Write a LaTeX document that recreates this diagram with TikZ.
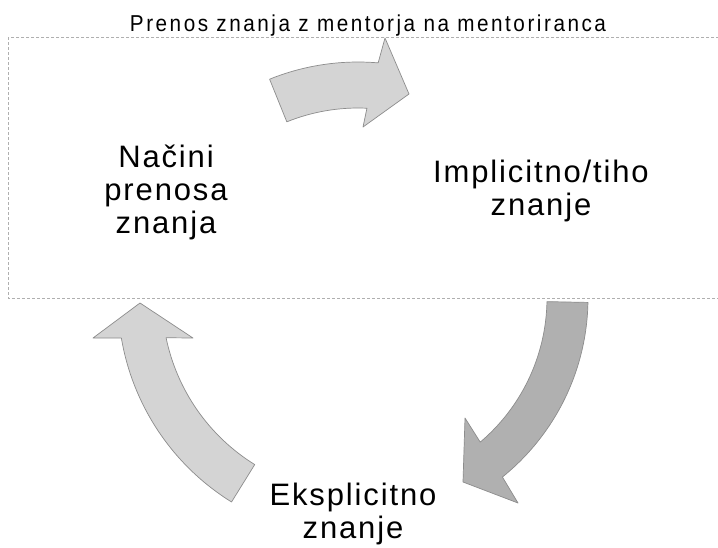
\documentclass[tikz,border=0pt]{standalone}
\usepackage{fontspec}
\setmainfont{Liberation Sans}
\newfontfamily\labelfont[LetterSpace=6]{Liberation Sans}
\newfontfamily\titlefont[LetterSpace=11,FakeStretch=0.9]{Liberation Sans}
\definecolor{lightfill}{RGB}{212,212,212}
\definecolor{darkfill}{RGB}{176,176,176}
\definecolor{arrowedge}{RGB}{140,140,140}
\definecolor{boxedge}{RGB}{175,175,175}
\tikzset{
  lightarrow/.style={fill=lightfill,draw=arrowedge,line width=0.7pt,line join=round},
  darkarrow/.style={fill=darkfill,draw=arrowedge,line width=0.7pt,line join=round},
  dashedbox/.style={draw=boxedge,line width=0.6pt,dash pattern=on 3pt off 2pt},
  cyclelabel/.style={font=\labelfont\fontsize{31pt}{33pt}\selectfont,align=center,anchor=base,inner sep=0pt,text=black},
  titlelabel/.style={font=\titlefont\fontsize{23pt}{26pt}\selectfont,anchor=base,inner sep=0pt,text=black}
}
\begin{document}
\begin{tikzpicture}[x=1pt,y=-1pt]
\useasboundingbox (0,0) rectangle (718,547);
\fill[white] (0,0) rectangle (718,547);
\coordinate (C) at (358,298);
\draw[dashedbox] (8,37) rectangle (740,298);
% top arrow
\draw[lightarrow] ([shift={(112:236pt)}]C) arc[start angle=112,end angle=85.1,radius=236pt]
  -- (385,38) -- (409,94) -- (363,127)
  -- ([shift={(87.3:190pt)}]C) arc[start angle=87.3,end angle=112,radius=190pt] -- cycle;
% right arrow
\draw[darkarrow] ([shift={(-1.1:230pt)}]C) arc[start angle=-1.1,end angle=-51.1,radius=230pt]
  -- (518,503) -- (463,482) -- (465,418)
  -- ([shift={(-49.7:189pt)}]C) arc[start angle=-49.7,end angle=-1.1,radius=189pt] -- cycle;
% left arrow
\draw[lightarrow] ([shift={(238.2:240pt)}]C) arc[start angle=238.2,end angle=189.6,radius=240pt]
  -- (93,338) -- (140,303) -- (193,338)
  -- ([shift={(191.7:196pt)}]C) arc[start angle=191.7,end angle=238.2,radius=196pt] -- cycle;
\node[titlelabel] (title) at (368,31) {Prenos znanja z mentorja na mentoriranca};
\node[cyclelabel] (nacini) at (166,233) {Načini\\prenosa\\znanja};
\node[cyclelabel] (implicit) at (541,215) {Implicitno/tiho\\znanje};
\node[cyclelabel] (explicit) at (353,538) {Eksplicitno\\znanje};
\end{tikzpicture}
\end{document}
